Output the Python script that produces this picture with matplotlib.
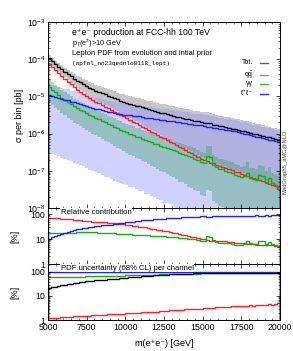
import matplotlib.pyplot as plt
import numpy as np
from matplotlib.ticker import LogLocator, NullFormatter, MultipleLocator, FixedLocator

plt.rcParams['font.family'] = ['Liberation Sans', 'DejaVu Sans']
plt.rcParams['mathtext.fontset'] = 'custom'
plt.rcParams['mathtext.rm'] = 'Liberation Sans'
plt.rcParams['mathtext.it'] = 'Liberation Sans:italic'

# 200 GeV bins in m(e+e-)
edges = np.arange(5000, 20001, 200)

# log10(sigma per bin / pb) per channel
qqbar = [-4.12, -4.21, -4.29, -4.37, -4.45, -4.53, -4.60, -4.68, -4.75, -4.82,
         -4.88, -4.94, -5.00, -5.05, -5.10, -5.15, -5.19, -5.24, -5.28, -5.32,
         -5.36, -5.41, -5.45, -5.50, -5.54, -5.59, -5.63, -5.68, -5.72, -5.77,
         -5.81, -5.86, -5.90, -5.95, -5.99, -6.04, -6.08, -6.13, -6.17, -6.22,
         -6.26, -6.31, -6.35, -6.40, -6.44, -6.49, -6.53, -6.58, -6.62, -6.67,
         -6.71, -6.74, -6.78, -6.80, -6.84, -6.86, -6.90, -6.92, -6.96, -6.98,
         -7.02, -7.04, -7.08, -7.10, -7.14, -7.16, -7.20, -7.22, -7.26, -7.28,
         -7.32, -7.35, -7.38, -7.42, -7.50]
gamgam = [-4.74, -4.82, -4.89, -4.96, -5.03, -5.09, -5.15, -5.21, -5.27, -5.31,
          -5.36, -5.40, -5.45, -5.49, -5.53, -5.58, -5.62, -5.66, -5.70, -5.74,
          -5.78, -5.82, -5.86, -5.90, -5.94, -5.97, -6.01, -6.04, -6.08, -6.10,
          -6.14, -6.17, -6.20, -6.23, -6.27, -6.29, -6.32, -6.35, -6.38, -6.41,
          -6.45, -6.48, -6.52, -6.54, -6.57, -6.61, -6.63, -6.67, -6.70, -6.76,
          -6.78, -6.60, -6.62, -6.84, -6.90, -6.95, -6.96, -7.00, -7.02, -7.05,
          -7.10, -7.14, -7.17, -7.15, -7.05, -7.20, -7.22, -7.25, -7.12, -7.15,
          -7.30, -7.20, -7.34, -7.38, -7.44]
leplep = [-4.97, -4.99, -5.02, -5.04, -5.06, -5.09, -5.11, -5.14, -5.16, -5.19,
          -5.21, -5.24, -5.26, -5.29, -5.31, -5.33, -5.35, -5.37, -5.39, -5.41,
          -5.43, -5.45, -5.47, -5.48, -5.49, -5.50, -5.51, -5.52, -5.53, -5.54,
          -5.55, -5.57, -5.58, -5.59, -5.60, -5.61, -5.63, -5.64, -5.65, -5.66,
          -5.67, -5.69, -5.70, -5.71, -5.72, -5.73, -5.74, -5.76, -5.77, -5.78,
          -5.79, -5.81, -5.82, -5.84, -5.85, -5.87, -5.88, -5.90, -5.91, -5.93,
          -5.94, -5.96, -5.98, -6.00, -6.02, -6.04, -6.06, -6.08, -6.10, -6.12,
          -6.14, -6.16, -6.18, -6.20, -6.22]

# PDF uncertainty (68% CL) per channel [%]
unc_qqbar = [1.20, 1.22, 1.25, 1.27, 1.30, 1.32, 1.35, 1.37, 1.40, 1.42,
             1.45, 1.48, 1.50, 1.53, 1.56, 1.58, 1.61, 1.64, 1.67, 1.70,
             1.73, 1.76, 1.80, 1.83, 1.86, 1.90, 1.93, 1.97, 2.00, 2.04,
             2.08, 2.12, 2.10, 2.20, 2.25, 2.22, 2.35, 2.40, 2.38, 2.50,
             2.55, 2.60, 2.58, 2.70, 2.75, 2.85, 2.80, 2.95, 3.00, 2.95,
             3.10, 3.20, 3.15, 3.30, 3.35, 3.45, 3.40, 3.60, 3.50, 3.70,
             3.75, 3.70, 3.90, 3.85, 4.00, 4.10, 3.95, 4.20, 4.15, 4.30,
             4.25, 4.50, 4.40, 4.70, 5.00]
unc_gamgam = [60, 60, 61, 61, 62, 62, 62, 63, 63, 63,
              64, 64, 65, 65, 66, 66, 67, 67, 68, 68,
              69, 69, 70, 70, 71, 72, 72, 73, 73, 74,
              75, 75, 76, 77, 77, 78, 79, 79, 80, 81,
              81, 82, 83, 83, 84, 85, 85, 86, 86, 87,
              87, 88, 88, 89, 89, 90, 90, 90, 91, 91,
              91, 92, 92, 92, 93, 93, 93, 94, 94, 94,
              94, 95, 95, 95, 95]
unc_leplep = [97.2, 97.2, 97.3, 97.3, 97.4, 97.4, 97.5, 97.5, 97.6, 97.6,
              97.7, 97.7, 97.8, 97.9, 98.0, 98.0, 98.1, 98.2, 98.3, 98.3,
              98.4, 98.5, 98.5, 98.6, 98.6, 98.7, 98.8, 98.8, 98.9, 99.0,
              99.0, 99.1, 99.1, 99.2, 99.2, 99.3, 99.3, 99.4, 99.4, 99.4,
              99.5, 99.5, 99.5, 99.5, 99.5, 99.5, 99.5, 99.6, 99.6, 99.6,
              99.6, 99.6, 99.6, 99.6, 99.6, 99.6, 99.6, 99.6, 99.6, 99.6,
              99.6, 99.6, 99.6, 99.6, 99.6, 99.6, 99.6, 99.6, 99.6, 99.6,
              99.6, 99.6, 99.6, 99.6, 99.6]

labels = ['Tot.', r'q$\bar{\rm q}$', 'γγ', 'ℓ⁺ℓ⁻']
colors = ['black', '#ff2020', '#10b010', '#2020ff']

q = 10 ** np.array(qqbar)
g = 10 ** np.array(gamgam)
l = 10 ** np.array(leplep)
uq = np.array(unc_qqbar)
ug = np.array(unc_gamgam)
ul = np.array(unc_leplep)
tot = q + g + l
ut = (q * uq + g * ug + l * ul) / tot

centers = 0.5 * (edges[1:] + edges[:-1])
bw = edges[1] - edges[0]

W, H = 293, 351
fig = plt.figure(figsize=(W / 100, H / 100), dpi=100)
L, R = 48 / W, 280 / W
ax1 = fig.add_axes([L, 1 - 208 / H, R - L, (208 - 22) / H])
ax2 = fig.add_axes([L, 1 - 264 / H, R - L, (264 - 208) / H])
ax3 = fig.add_axes([L, 1 - 320 / H, R - L, (320 - 264) / H])

# uncertainty bands
bands = [(tot, ut, '#c6c6c6', 1.0), (l, ul, '#9999ff', 0.45),
         (g, ug, '#289b54', 0.35), (q, uq, '#ff6060', 0.35)]
for val, unc, col, a in bands:
    ax1.bar(centers, val * 2 * unc / 100, bottom=val * (1 - unc / 100),
            width=bw, color=col, alpha=a, lw=0)

for val, col in zip([tot, q, g, l], colors):
    ax1.stairs(val, edges, color=col, lw=1.0)

ax2.stairs(100 * q / tot, edges, color=colors[1], lw=1.0)
ax2.stairs(100 * g / tot, edges, color=colors[2], lw=1.0)
ax2.stairs(100 * l / tot, edges, color=colors[3], lw=1.0)

ax3.stairs(ul, edges, color=colors[3], lw=1.0)
ax3.stairs(ug, edges, color=colors[2], lw=1.0)
ax3.stairs(ut, edges, color=colors[0], lw=1.0)
ax3.stairs(uq, edges, color=colors[1], lw=1.0)

for ax in (ax1, ax2, ax3):
    ax.set_xlim(5000, 20000)
    ax.set_yscale('log')
    ax.xaxis.set_major_locator(MultipleLocator(2500))
    ax.xaxis.set_minor_locator(MultipleLocator(500))
    ax.tick_params(which='both', direction='in', top=True, right=True,
                   labelsize=6.3, pad=2)
    ax.tick_params(which='major', length=3, width=0.5)
    ax.tick_params(which='minor', length=1.5, width=0.4)
    for s in ax.spines.values():
        s.set_linewidth(0.7)

ax1.set_ylim(1e-8, 1e-3)
ax1.tick_params(labelbottom=False)
ax1.set_ylabel('σ per bin [pb]', fontsize=6.5, labelpad=2)

for ax in (ax2, ax3):
    ax.yaxis.set_major_locator(FixedLocator([1, 10, 100]))
    ax.yaxis.set_major_formatter(plt.FuncFormatter(lambda v, p: '%d' % v))
    ax.yaxis.set_minor_locator(LogLocator(subs=np.arange(2, 10)))
    ax.yaxis.set_minor_formatter(NullFormatter())
    ax.set_ylabel('[%]', fontsize=6.5, labelpad=8)
ax2.set_ylim(1, 175)
ax3.set_ylim(1, 215)
ax2.tick_params(labelbottom=False)
ax3.set_xlabel('m(e⁺e⁻) [GeV]', fontsize=6.5, labelpad=5)

ax2.text(0.055, 0.985, 'Relative contribution', transform=ax2.transAxes,
         fontsize=5.6, va='top', ha='left',
         bbox=dict(fc='white', ec='none', pad=0.3))
ax3.text(0.055, 0.985, 'PDF uncertainty (68% CL) per channel',
         transform=ax3.transAxes, fontsize=5.6, va='top', ha='left',
         bbox=dict(fc='white', ec='none', pad=0.3))

ax1.text(0.103, 0.941, 'e⁺e⁻ production at FCC-hh 100 TeV',
         transform=ax1.transAxes, fontsize=6.2, va='center')
ax1.text(0.103, 0.884, r'p$_T$(e$^{\pm}$)>10 GeV',
         transform=ax1.transAxes, fontsize=5.2, va='center')
ax1.text(0.103, 0.830, 'Lepton PDF from evolution and intial prior',
         transform=ax1.transAxes, fontsize=5.4, va='center')
ax1.text(0.103, 0.778, '(apfel_nn23qednlo0118_lept)',
         transform=ax1.transAxes, fontsize=4.4, va='center',
         family='Liberation Mono')
ax1.text(1.02, 0.25, 'MadGraph5_aMC@NLO', transform=ax1.transAxes,
         fontsize=4.2, rotation=90, va='center', ha='center', color='#444444')

# legend, gnuplot style: text then line sample
ys = [0.780, 0.715, 0.667, 0.613]
for lab, col, y in zip(labels, ['#606060', '#ff6060', '#30c030', '#3030ff'], ys):
    ax1.text(0.885, y, lab, transform=ax1.transAxes, fontsize=5.0,
             ha='right', va='center')
    ax1.plot([0.914, 0.948], [y, y], transform=ax1.transAxes, color=col,
             lw=1.0)

fig.savefig('out.png', dpi=100)
